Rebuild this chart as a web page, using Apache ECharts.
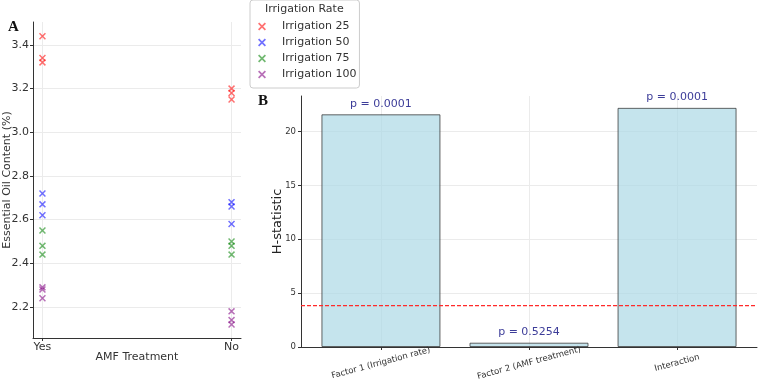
<!DOCTYPE html>
<html>
<head>
<meta charset="utf-8">
<script src="https://cdn.jsdelivr.net/npm/echarts@6/dist/echarts.min.js"></script>
<style>
html, body { margin: 0; padding: 0; background: #fff; }
#chart { width: 758px; height: 385px; }
</style>
</head>
<body>
<div id="chart"></div>
<script>
// panel A: essential oil content by AMF treatment
var amfLevels = ['Yes', 'No'];
var amfTickValues = [0, 1];
var oilTicks = [2.2, 2.4, 2.6, 2.8, 3.0, 3.2, 3.4];
var irrigationNames = ['Irrigation 25', 'Irrigation 50', 'Irrigation 75', 'Irrigation 100'];
var irr25Yes = [3.44, 3.34, 3.32];
var irr25No = [3.20, 3.18, 3.15];
var irr50Yes = [2.72, 2.67, 2.62];
var irr50No = [2.68, 2.66, 2.58];
var irr75Yes = [2.55, 2.48, 2.44];
var irr75No = [2.50, 2.48, 2.44];
var irr100Yes = [2.29, 2.28, 2.24];
var irr100No = [2.18, 2.14, 2.12];

// panel B: Kruskal-Wallis H statistics
var factorNames = ['Factor 1 (Irrigation rate)', 'Factor 2 (AMF treatment)', 'Interaction'];
var factorTickValues = [0, 1, 2];
var hStat = [21.6, 0.40, 22.2];
var pValues = ['0.0001', '0.5254', '0.0001'];
var hTicks = [0, 5, 10, 15, 20];
var criticalH = 3.84;

var xMinB = -0.54, xMaxB = 2.54;
var colors = ['rgba(255,0,0,0.7)', 'rgba(0,0,255,0.7)', 'rgba(0,128,0,0.7)', 'rgba(128,0,128,0.7)'];
var xMark = 'path://M0,1.5L1.5,0L5,3.5L8.5,0L10,1.5L6.5,5L10,8.5L8.5,10L5,6.5L1.5,10L0,8.5L3.5,5Z';
var font = 'DejaVu Sans';
var gridColor = '#ebebeb';
var axisColor = '#333';
var critColor = '#ff2a2a';

var groups = [[irr25Yes, irr25No], [irr50Yes, irr50No], [irr75Yes, irr75No], [irr100Yes, irr100No]];

var scatterSeries = groups.map(function (g, i) {
    var pts = [];
    g[0].forEach(function (v) { pts.push([0, v]); });
    g[1].forEach(function (v) { pts.push([1, v]); });
    return {
        name: irrigationNames[i],
        type: 'scatter',
        xAxisIndex: 0,
        yAxisIndex: 0,
        symbol: xMark,
        symbolSize: 7,
        itemStyle: { color: colors[i] },
        data: pts
    };
});

var myChart = echarts.init(document.getElementById('chart'));

var option = {
    animation: false,
    backgroundColor: '#fff',
    textStyle: { fontFamily: font },
    grid: [
        { left: 33, top: 22, width: 208, height: 316, outerBoundsMode: 'none', containLabel: false },
        { left: 301, top: 96, width: 456, height: 251, outerBoundsMode: 'none', containLabel: false }
    ],
    legend: {
        data: irrigationNames,
        orient: 'vertical',
        left: 250,
        top: 0,
        padding: [21, 3, 8, 8],
        itemWidth: 8,
        itemHeight: 8,
        itemGap: 5,
        backgroundColor: '#fff',
        borderColor: '#ccc',
        borderWidth: 1,
        borderRadius: 3,
        textStyle: { fontFamily: font, fontSize: 11, color: '#333', padding: [0, 0, 0, 11] }
    },
    graphic: [
        { type: 'text', left: 8, top: 20, z: 100, style: { text: 'A', font: 'bold 15px "Liberation Serif"', fill: '#111' } },
        { type: 'text', left: 258, top: 94, z: 100, style: { text: 'B', font: 'bold 15px "Liberation Serif"', fill: '#111' } },
        { type: 'text', left: 265, top: 4, z: 100, style: { text: 'Irrigation Rate', font: '11px "DejaVu Sans"', fill: '#333' } }
    ],
    xAxis: [
        {
            type: 'value',
            gridIndex: 0,
            min: -0.05,
            max: 1.05,
            name: 'AMF Treatment',
            nameLocation: 'middle',
            nameGap: 14,
            nameMoveOverlap: false,
            nameTextStyle: { fontSize: 11, color: '#333' },
            axisLine: { onZero: false, lineStyle: { color: axisColor } },
            axisTick: { show: true, length: 3, customValues: amfTickValues, lineStyle: { color: axisColor } },
            axisLabel: {
                customValues: amfTickValues,
                fontSize: 11, color: '#333', margin: 4,
                formatter: function (v) { return amfLevels[Math.round(v)]; }
            },
            splitLine: { show: true, lineStyle: { color: gridColor } }
        },
        {
            type: 'value',
            gridIndex: 1,
            min: xMinB,
            max: xMaxB,
            axisLine: { onZero: false, lineStyle: { color: axisColor } },
            axisTick: { show: true, length: 3, customValues: factorTickValues, lineStyle: { color: axisColor } },
            axisLabel: {
                customValues: factorTickValues,
                fontSize: 8.5, color: '#333', rotate: 15, margin: 16,
                align: 'center', verticalAlign: 'middle',
                formatter: function (v) { return factorNames[Math.round(v)]; }
            },
            splitLine: { show: true, lineStyle: { color: gridColor } }
        }
    ],
    yAxis: [
        {
            type: 'value',
            gridIndex: 0,
            min: 2.058,
            max: 3.505,
            name: 'Essential Oil Content (%)',
            nameLocation: 'middle',
            nameGap: 20,
            nameMoveOverlap: false,
            nameTextStyle: { fontSize: 11, color: '#333' },
            axisLine: { show: true, onZero: false, lineStyle: { color: axisColor } },
            axisTick: { show: true, length: 3, customValues: oilTicks, lineStyle: { color: axisColor } },
            axisLabel: {
                customValues: oilTicks,
                fontSize: 11, color: '#333', margin: 4,
                formatter: function (v) { return v.toFixed(1); }
            },
            splitLine: { show: true, lineStyle: { color: gridColor } }
        },
        {
            type: 'value',
            gridIndex: 1,
            min: 0,
            max: 23.3,
            name: 'H-statistic',
            nameLocation: 'middle',
            nameGap: 17,
            nameMoveOverlap: false,
            nameTextStyle: { fontSize: 13, color: '#222' },
            axisLine: { show: true, onZero: false, lineStyle: { color: axisColor } },
            axisTick: { show: true, length: 3, customValues: hTicks, lineStyle: { color: axisColor } },
            axisLabel: { customValues: hTicks, fontSize: 8.5, color: '#333', margin: 5 },
            splitLine: { show: true, lineStyle: { color: gridColor } }
        }
    ],
    series: scatterSeries.concat([
        {
            name: 'H-statistic',
            type: 'bar',
            xAxisIndex: 1,
            yAxisIndex: 1,
            barWidth: 119,
            itemStyle: {
                color: 'rgba(173,216,230,0.7)',
                borderColor: 'rgba(50,50,50,0.75)',
                borderWidth: 1
            },
            label: {
                show: true,
                position: 'top',
                distance: 5,
                fontSize: 11,
                color: '#3d3d99',
                formatter: function (p) { return 'p = ' + pValues[p.dataIndex]; }
            },
            data: hStat.map(function (v, i) { return [factorTickValues[i], v]; })
        },
        {
            // critical H value, drawn across the full x range
            name: 'critical',
            type: 'line',
            xAxisIndex: 1,
            yAxisIndex: 1,
            z: 5,
            symbol: 'none',
            silent: true,
            itemStyle: { color: critColor },
            lineStyle: { color: critColor, type: [4, 2], width: 1.2 },
            data: [[xMinB, criticalH], [xMaxB, criticalH]]
        }
    ])
};

myChart.setOption(option);
</script>
</body>
</html>
